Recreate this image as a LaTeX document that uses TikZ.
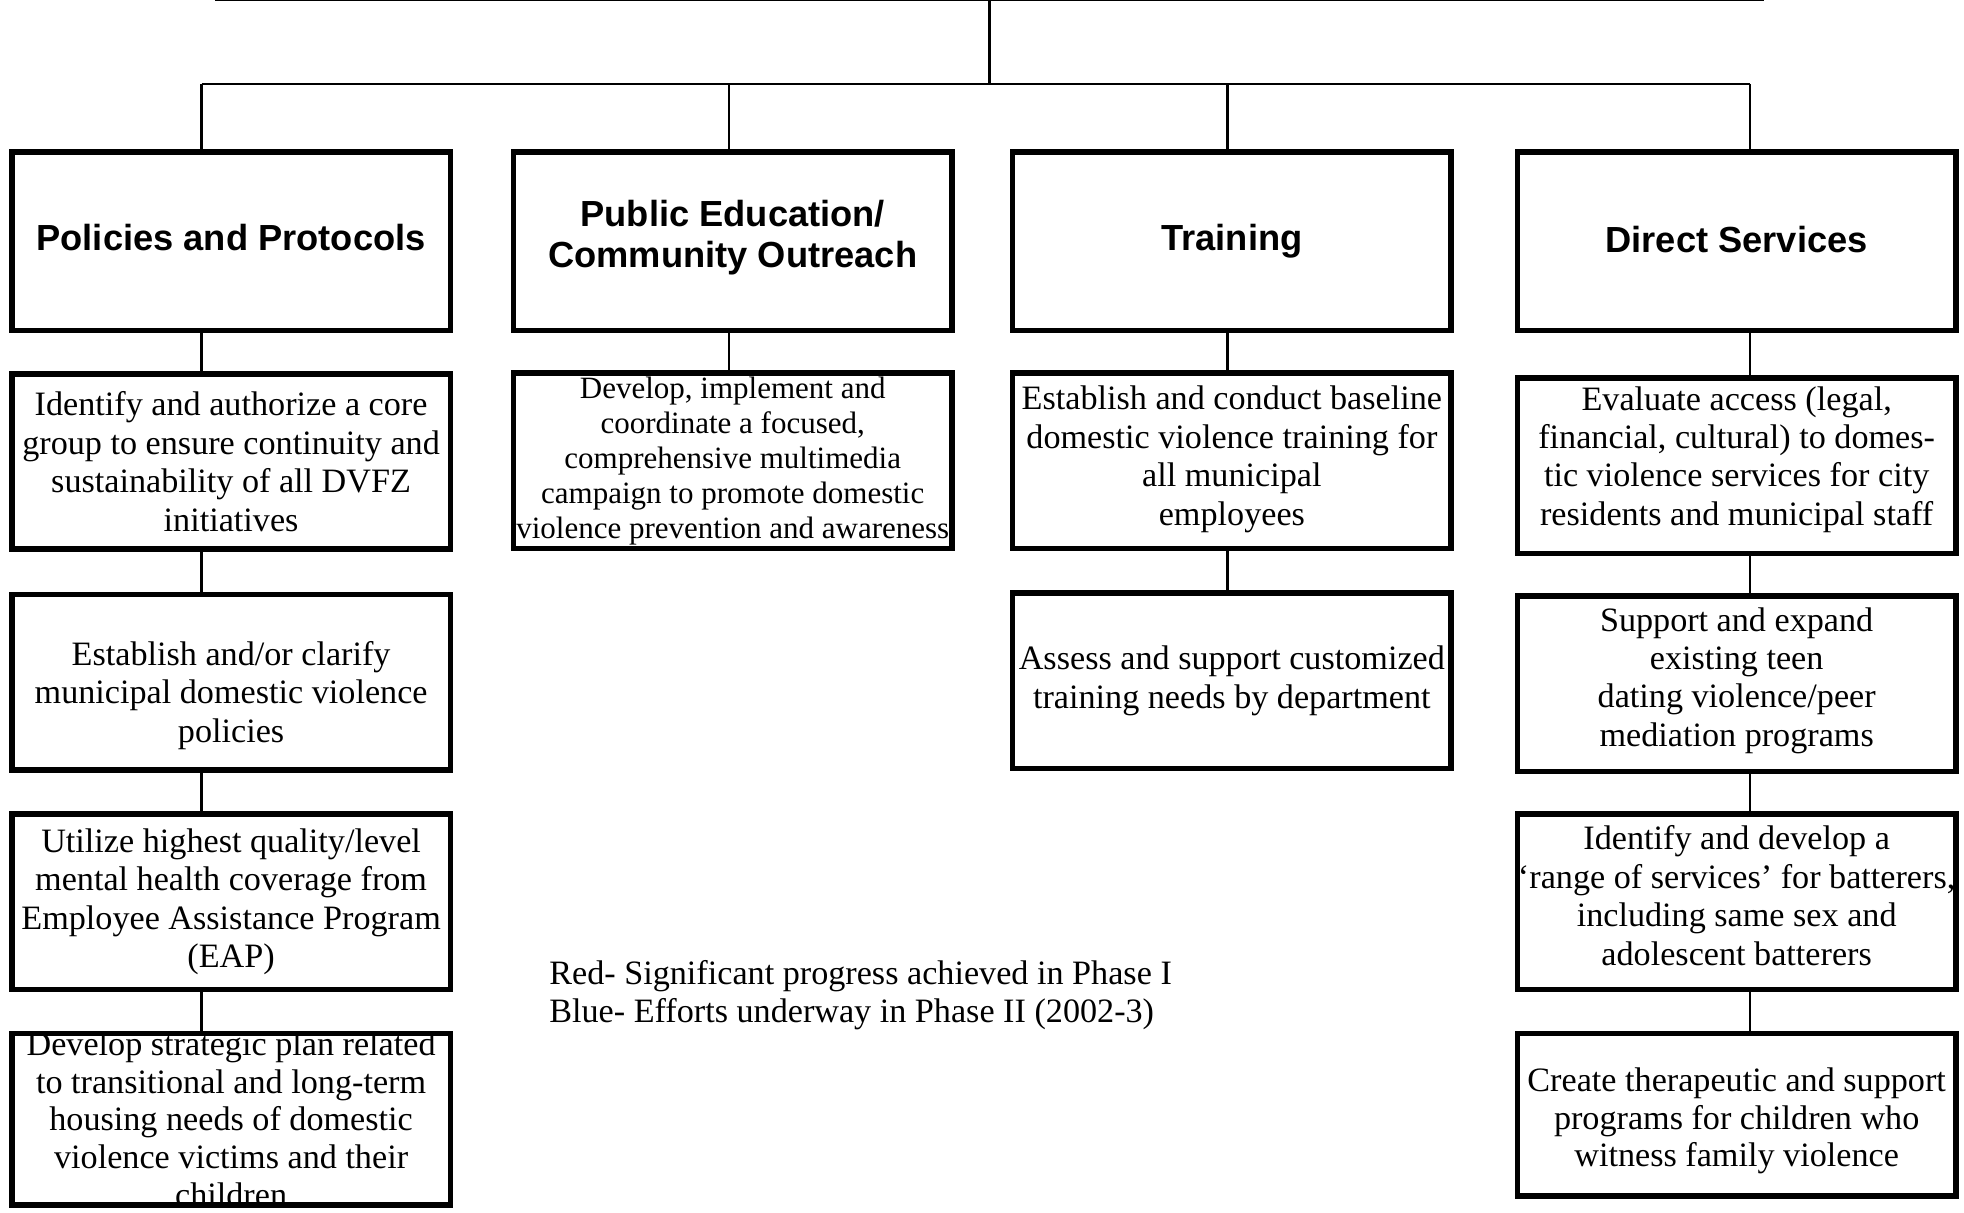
\documentclass[tikz,border=0pt]{standalone}
\usepackage{fontspec}
\setmainfont{Liberation Serif}
\setsansfont{Liberation Sans}

\tikzset{
  head/.style={draw, line width=1.6pt, minimum width=4.375cm, minimum height=1.78cm,
    inner sep=0pt, align=center, font=\sffamily\bfseries\fontsize{10.3}{11.7}\selectfont},
  goal/.style={draw, line width=1.6pt, minimum width=4.375cm, minimum height=1.75cm,
    inner sep=0pt, align=center, font=\fontsize{9.7}{10.9}\selectfont},
  link/.style={line width=0.75pt},
}

\begin{document}
\begin{tikzpicture}[x=0.0125cm, y=-0.0125cm]

\useasboundingbox (0,0) rectangle (1568,968);

\coordinate (topl) at (172,0);
\coordinate (topr) at (1408,0);
\coordinate (top) at (790,0);
\coordinate (bus) at (790,67);
\coordinate (c1) at (161,67);
\coordinate (c2) at (582,67);
\coordinate (c3) at (980,67);
\coordinate (c4) at (1397,67);

\node[head] (pol) at (184.5,192.75) {Policies and Protocols\rule[-2.1pt]{0pt}{0pt}};
\node[head] (edu) at (585,192.75) {Public Education/\\Community Outreach\rule[-4.3pt]{0pt}{0pt}};
\node[head] (trn) at (983.5,192.75) {Training};
\node[head] (srv) at (1386.5,192.75) {Direct Services\rule[-1.4pt]{0pt}{0pt}};

% policies column
\node[goal] (pol1) at (184.5,368.5) {Identify and authorize a core\\group to ensure continuity and\\sustainability of all DVFZ\\initiatives};
\node[goal] (pol2) at (184.5,544.5) {\rule{0pt}{14.5pt}Establish and/or clarify\\municipal domestic violence\\policies};
\node[goal] (pol3) at (184.5,720) {Utilize highest quality/level\\mental health coverage from\\Employee Assistance Program\\(EAP)};
\node[goal, minimum height=1.7125cm, inner ysep=-1.5pt, font=\fontsize{9.7}{10.67}\selectfont] (pol4) at (184.5,893.5) {Develop strategic plan related\\to transitional and long-term\\housing needs of domestic\\violence victims and their\\children};

% outreach column
\node[goal, inner xsep=-1pt, font=\fontsize{8.8}{9.96}\selectfont] (edu1) at (585,368) {Develop, implement and\\coordinate a focused,\\comprehensive multimedia\\campaign to promote domestic\\violence prevention and awareness};

% training column
\node[goal] (trn1) at (983.5,368) {Establish and conduct baseline\\domestic violence training for\\all municipal\\employees\rule[-3pt]{0pt}{0pt}};
\node[goal] (trn2) at (983.5,543.5) {Assess and support customized\\training needs by department};

% services column
\node[goal] (srv1) at (1386.5,372) {Evaluate access (legal,\\financial, cultural) to domes-\\tic violence services for city\\residents and municipal staff\rule[-5.7pt]{0pt}{0pt}};
\node[goal] (srv2) at (1386.5,546) {Support and expand\\existing teen\\dating violence/peer\\mediation programs\rule[-4pt]{0pt}{0pt}};
\node[goal] (srv3) at (1386.5,720) {Identify and develop a\\‘range of services’ for batterers,\\including same sex and\\adolescent batterers\rule[-3.6pt]{0pt}{0pt}};
\node[goal, minimum height=1.625cm, font=\fontsize{9.7}{10.67}\selectfont] (srv4) at (1386.5,890) {\rule{0pt}{10.3pt}Create therapeutic and support\\programs for children who\\witness family violence};

\node[align=left, anchor=west, inner sep=0pt, font=\fontsize{9.7}{11}\selectfont] (key) at (438,794.5) {Red- Significant progress achieved in Phase I\\Blue- Efforts underway in Phase II (2002-3)};

% connectors
\draw[link] (topl) -- (topr);
\draw[link] (top) -- (bus);
\draw[link] (c1) -- (c4);
\foreach \c/\h in {c1/pol, c2/edu, c3/trn, c4/srv}
  \draw[link] (\c) -- (\c |- \h.north);
\foreach \a/\b/\c in {pol/pol1/c1, pol1/pol2/c1, pol2/pol3/c1, pol3/pol4/c1,
                      edu/edu1/c2, trn/trn1/c3, trn1/trn2/c3,
                      srv/srv1/c4, srv1/srv2/c4, srv2/srv3/c4, srv3/srv4/c4}
  \draw[link] (\a.south -| \c) -- (\b.north -| \c);

\end{tikzpicture}
\end{document}
